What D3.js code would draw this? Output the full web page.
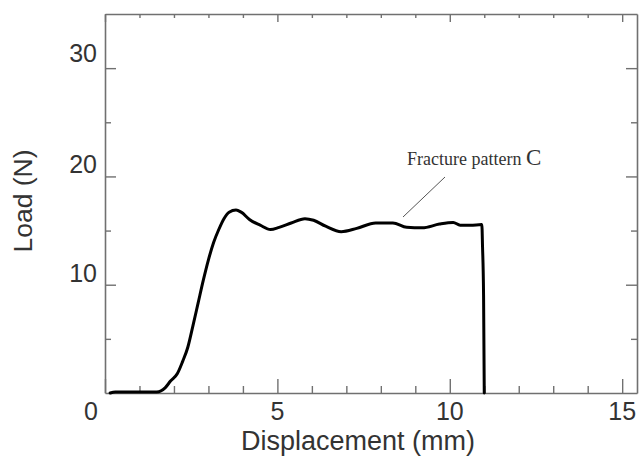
<!DOCTYPE html>
<html><head><meta charset="utf-8">
<script src="https://cdn.jsdelivr.net/npm/d3@7"></script>
<style>body{margin:0;background:#fff}svg{display:block}</style>
</head><body>
<svg id="c" width="641" height="458"></svg>
<script>
const displacement = [0.15,0.3,1.0,1.5,1.75,1.9,2.1,2.25,2.4,2.55,2.7,2.85,3.0,3.15,3.3,3.45,3.6,3.8,3.95,4.2,4.5,4.8,5.05,5.4,5.8,6.05,6.4,6.85,7.3,7.85,8.35,8.75,9.2,9.7,10.1,10.3,10.6,10.93,10.95,10.98,11.0];
const load = [0,0.1,0.1,0.1,0.5,1.1,1.8,2.9,4.2,6.2,8.3,10.4,12.3,13.9,15.1,16.1,16.7,16.9,16.7,16.0,15.5,15.1,15.3,15.7,16.1,15.95,15.4,14.9,15.2,15.7,15.7,15.3,15.25,15.6,15.75,15.5,15.5,15.55,13.5,9.0,0];
const xTickLabels = [0,5,10,15];
const yTickLabels = [10,20,30];
const xLabel = "Displacement (mm)";
const yLabel = "Load (N)";
const annotation = "Fracture pattern ";
const annotationLetter = "C";

const svg = d3.select("#c");
const L = 105, R = 637, T = 14, B = 393;
const x = d3.scaleLinear().domain([0, 15.43]).range([L, R]);
const y = d3.scaleLinear().domain([0, 35]).range([B, T]);
const frameColor = "#707070";

const xt = d3.range(0, 16, 1);
const yt = d3.range(5, 35, 5);

function styleAxis(g){
  g.selectAll("path.domain").attr("stroke", frameColor).attr("stroke-width", 1.6);
  g.selectAll(".tick line").attr("stroke", frameColor).attr("stroke-width", 1.4);
  g.selectAll(".tick text").remove();
}
svg.append("g").attr("transform", `translate(0,${B})`)
  .call(d3.axisBottom(x).tickValues(xt).tickSizeOuter(0).tickSizeInner(0))
  .call(styleAxis)
  .call(g => g.selectAll(".tick line").attr("y2", d => d % 5 === 0 ? -14 : -7));
svg.append("g").attr("transform", `translate(0,${T})`)
  .call(d3.axisTop(x).tickValues(xt).tickSizeOuter(0).tickSizeInner(0))
  .call(styleAxis)
  .call(g => g.selectAll(".tick line").attr("y2", d => d % 5 === 0 ? 8 : 4));
svg.append("g").attr("transform", `translate(${L},0)`)
  .call(d3.axisLeft(y).tickValues(yt).tickSizeOuter(0).tickSizeInner(0))
  .call(styleAxis)
  .call(g => g.selectAll(".tick line").attr("x2", d => d % 10 === 0 ? 11 : 6));
svg.append("g").attr("transform", `translate(${R},0)`)
  .call(d3.axisRight(y).tickValues(yt).tickSizeOuter(0).tickSizeInner(0))
  .call(styleAxis)
  .call(g => g.selectAll(".tick line").attr("x2", d => d % 10 === 0 ? -11 : -6));

const font = "'Liberation Sans', Arial, sans-serif";
svg.append("g").selectAll("text").data(xTickLabels).join("text")
  .attr("x", d => d === 0 ? x(d) - 7 : x(d))
  .attr("y", 420)
  .attr("text-anchor", d => d === 0 ? "end" : "middle")
  .attr("font-family", font).attr("font-size", 25).attr("fill", "#333")
  .text(d => d);
svg.append("g").selectAll("text").data(yTickLabels).join("text")
  .attr("x", 97)
  .attr("y", d => y(d) - 3 - (d === 30 ? 3 : 0))
  .attr("text-anchor", "end")
  .attr("font-family", font).attr("font-size", 25).attr("fill", "#333")
  .text(d => d);

svg.append("text").attr("x", 358).attr("y", 450).attr("text-anchor", "middle")
  .attr("font-family", font).attr("font-size", 27).attr("fill", "#333").text(xLabel);
svg.append("text").attr("transform", "translate(32,201) rotate(-90)").attr("text-anchor", "middle")
  .attr("font-family", font).attr("font-size", 26.5).attr("fill", "#333").text(yLabel);

const pts = displacement.map((d, i) => [d, load[i]]);
svg.append("path").datum(pts)
  .attr("fill", "none").attr("stroke", "#000").attr("stroke-width", 3)
  .attr("stroke-linejoin", "round").attr("stroke-linecap", "round")
  .attr("d", d3.line().x(d => x(d[0])).y(d => y(d[1])).curve(d3.curveMonotoneX));

svg.append("line").attr("x1", 445).attr("y1", 177).attr("x2", 403).attr("y2", 217)
  .attr("stroke", "#555").attr("stroke-width", 1);
const ann = svg.append("text").attr("x", 407).attr("y", 165)
  .attr("font-family", "'Liberation Serif', 'Times New Roman', serif").attr("fill", "#333");
ann.append("tspan").attr("font-size", 18).text(annotation);
ann.append("tspan").attr("font-size", 23).text(annotationLetter);
</script>
</body></html>
